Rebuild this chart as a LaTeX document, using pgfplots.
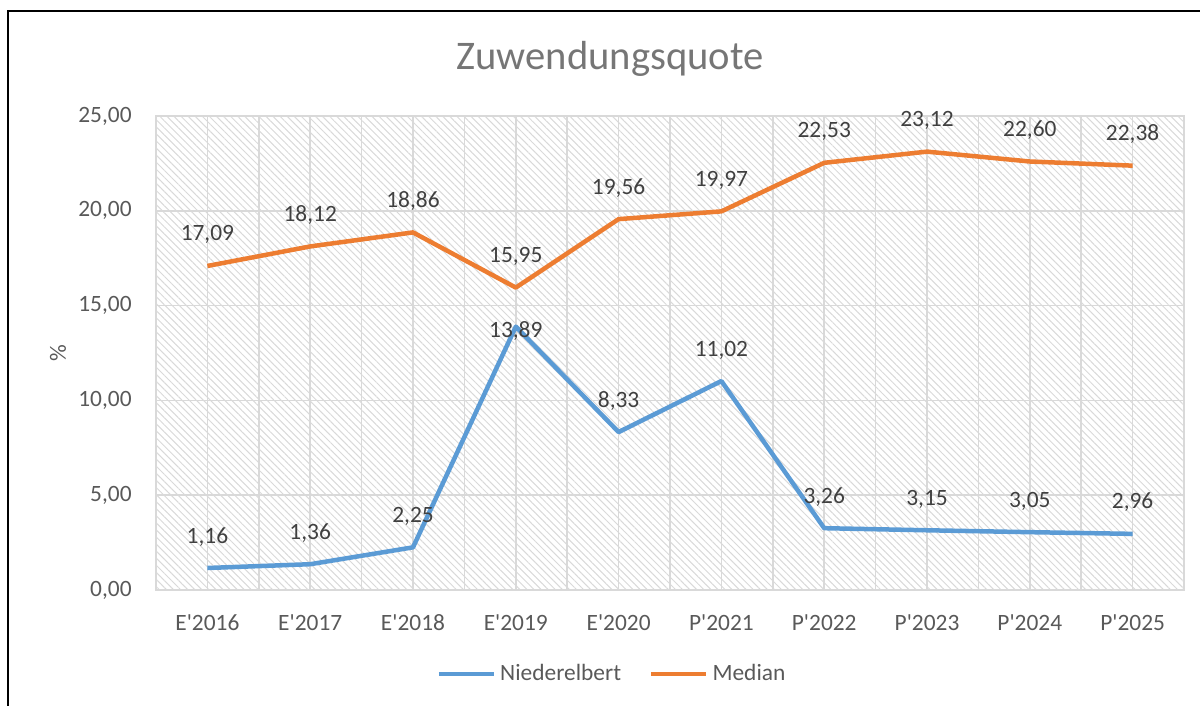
\documentclass[border=0pt]{standalone}
\usepackage{pgfplots}
\pgfplotsset{compat=1.18}
\usepackage{pgfplotstable}
\usetikzlibrary{patterns.meta}
\usepackage{fontspec}
\setmainfont{Carlito}[Ligatures=TeXOff]

\definecolor{nblue}{HTML}{5B9BD5}
\definecolor{morange}{HTML}{ED7D31}
\definecolor{txtgray}{HTML}{595959}
\definecolor{lblgray}{HTML}{404040}
\definecolor{ttlgray}{HTML}{767676}
\definecolor{gridgray}{HTML}{D9D9D9}

% x = category index, dy = label baseline offset above the point (pt)
\pgfplotstableread{
x y dy
0 1.16 12.5
1 1.36 12.5
2 2.25 12.5
3 13.89 -5.5
4 8.33 12.5
5 11.02 12.5
6 3.26 12.5
7 3.15 12.5
8 3.05 12.5
9 2.96 12.5
}\niederelbert

\pgfplotstableread{
x y dy
0 17.09 12.5
1 18.12 12.5
2 18.86 12.5
3 15.95 12.5
4 19.56 12.5
5 19.97 12.5
6 22.53 12.5
7 23.12 12.5
8 22.60 12.5
9 22.38 12.5
}\median

\begin{document}
\begin{tikzpicture}
\useasboundingbox (0,0) rectangle (600pt,353pt);
\draw[line width=1pt] (4pt,0) -- (4pt,347.5pt) -- (600pt,347.5pt);
\node[anchor=base, text=ttlgray, font=\fontsize{20.3}{24}\selectfont] at (305pt,318pt) {Zuwendungsquote};
\begin{axis}[
  at={(78pt,58pt)}, anchor=south west,
  scale only axis, width=514pt, height=237pt,
  xmin=-0.5, xmax=9.5, ymin=0, ymax=25,
  xtick={0,...,9},
  xticklabels={E'2016,E'2017,E'2018,E'2019,E'2020,P'2021,P'2022,P'2023,P'2024,P'2025},
  minor xtick={-0.5,0.5,...,9.5},
  ytick={0,5,...,25},
  grid=both,
  major grid style={gridgray, line width=0.75pt},
  minor grid style={gridgray, line width=0.75pt},
  axis line style={gridgray, line width=0.75pt},
  tick style={draw=none},
  axis background/.style={pattern={Lines[angle=-45,distance=2.5pt,line width=0.5pt]}, pattern color=gridgray},
  /pgf/number format/assume math mode=true,
  /pgf/number format/use comma,
  /pgf/number format/fixed,
  /pgf/number format/fixed zerofill,
  /pgf/number format/precision=2,
  ticklabel style={font=\fontsize{11.7}{14}\selectfont, text=txtgray, inner sep=0pt},
  yticklabel style={anchor=east, xshift=-12pt},
  xticklabel style={anchor=north, yshift=-12pt},
  ylabel={\%},
  ylabel style={at={(-0.0953,0.5)}, anchor=center, font=\fontsize{11.7}{14}\selectfont, text=txtgray},
  legend columns=2,
  legend style={at={(0.4446,-0.1772)}, anchor=center, draw=none, fill=none,
    font=\fontsize{11.7}{14}\selectfont, text=txtgray,
    /tikz/every even column/.append style={column sep=12pt}},
  legend image code/.code={\draw[#1, line width=2.25pt] (0pt,0pt) -- (27.5pt,0pt);},
  clip=false,
  point meta=y,
  nodes near coords,
  visualization depends on={\thisrow{dy} \as \labdy},
  every node near coord/.append style={anchor=base, yshift=\labdy pt, inner sep=0pt,
    text=lblgray, font=\fontsize{11.7}{14}\selectfont},
]
\addplot[nblue, line width=2.25pt, line join=round] table[x=x, y=y] {\niederelbert};
\addlegendentry{Niederelbert}
\addplot[morange, line width=2.25pt, line join=round] table[x=x, y=y] {\median};
\addlegendentry{Median}
\end{axis}
\end{tikzpicture}
\end{document}
